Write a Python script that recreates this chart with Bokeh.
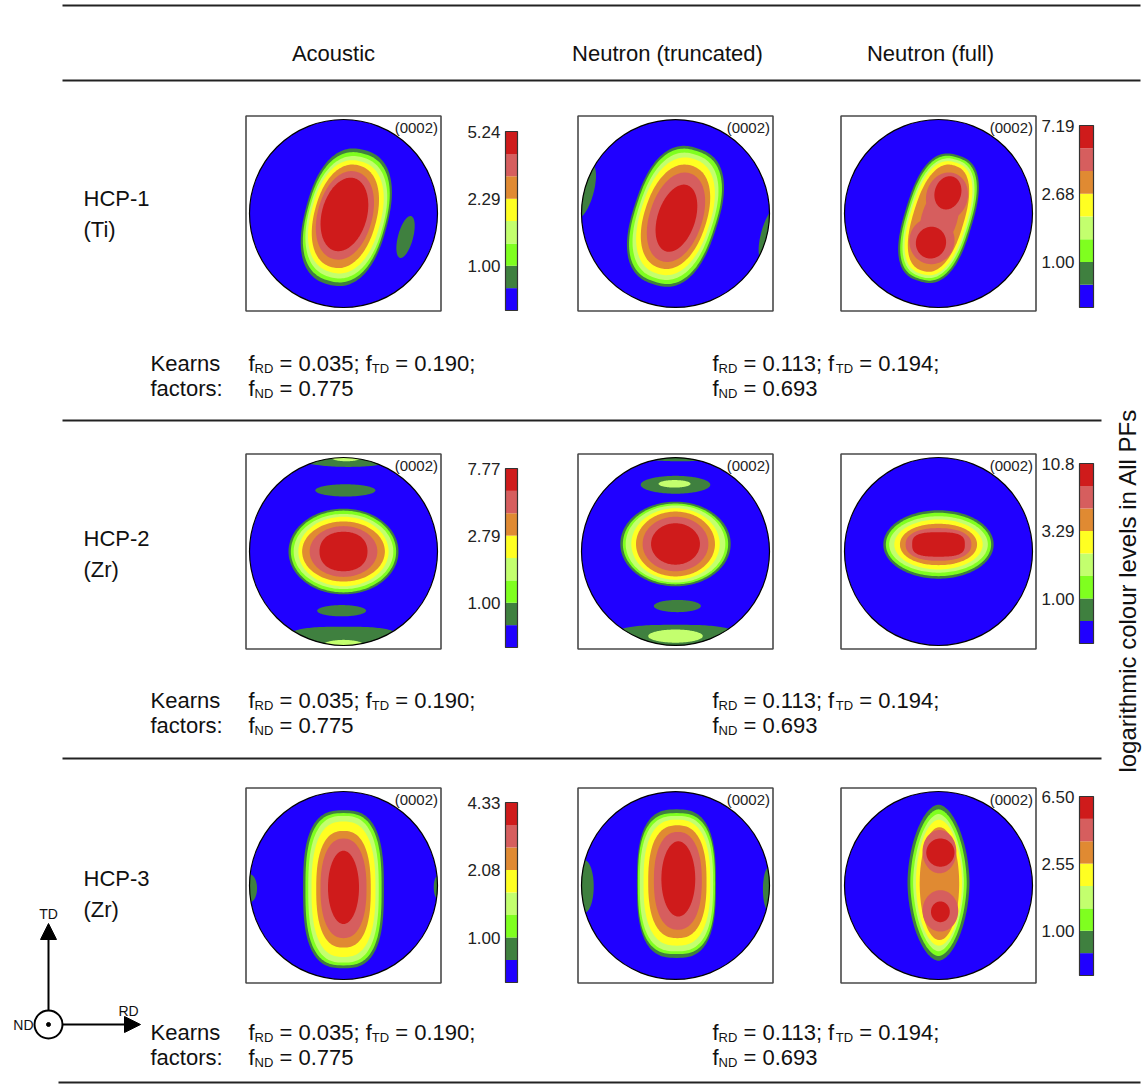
import numpy as np
from bokeh.plotting import figure
from bokeh.models import Range1d, ColumnDataSource, Label, Arrow, NormalHead
from bokeh.core.properties import value
from bokeh.embed import file_html
from bokeh.resources import INLINE

FONT = "Liberation Sans"

# ---------------- data ----------------
level_colors = ["#2000FF", "#3F803F", "#7FFF1F", "#C3FF6E",
                "#FFFF22", "#E08A32", "#D65E5E", "#CF1B1B"]

col_titles = ["Acoustic", "Neutron (truncated)", "Neutron (full)"]
row_names = ["HCP-1", "HCP-2", "HCP-3"]
row_materials = ["(Ti)", "(Zr)", "(Zr)"]
pole_label = "(0002)"

kearns_acoustic = ["0.035", "0.190", "0.775"]   # f_RD, f_TD, f_ND
kearns_neutron = ["0.113", "0.194", "0.693"]

cbar_labels_acoustic = [["5.24", "2.29", "1.00"],
                        ["7.77", "2.79", "1.00"],
                        ["4.33", "2.08", "1.00"]]
cbar_labels_full = [["7.19", "2.68", "1.00"],
                    ["10.8", "3.29", "1.00"],
                    ["6.50", "2.55", "1.00"]]

# contour level regions in pole-figure units (unit circle):
# (level, cx, cy, rx, ry, rotation_deg, squareness)
pf_hcp1_acoustic = [
    (1, 0.03, -0.04, 0.44, 0.74, -15, 2.4),
    (2, 0.03, -0.04, 0.42, 0.70, -15, 2.4),
    (3, 0.03, -0.04, 0.40, 0.66, -15, 2.3),
    (4, 0.025, -0.035, 0.37, 0.61, -15, 2.3),
    (5, 0.02, -0.03, 0.33, 0.56, -15, 2.2),
    (6, 0.015, -0.02, 0.29, 0.48, -15, 2.1),
    (7, 0.01, -0.01, 0.24, 0.40, -15, 2.0),
    (1, 0.66, -0.25, 0.08, 0.23, -15, 2.0),
]
pf_hcp1_truncated = [
    (1, 0.0, -0.03, 0.45, 0.76, -18, 2.5),
    (2, 0.0, -0.03, 0.43, 0.73, -18, 2.5),
    (3, 0.0, -0.03, 0.40, 0.69, -18, 2.4),
    (4, 0.0, -0.03, 0.37, 0.64, -18, 2.3),
    (5, 0.0, -0.035, 0.33, 0.57, -18, 2.2),
    (6, 0.005, -0.04, 0.28, 0.49, -18, 2.1),
    (7, 0.01, -0.05, 0.20, 0.37, -18, 2.0),
    (1, -0.97, 0.24, 0.10, 0.30, -15, 2.0),
    (1, 0.99, -0.22, 0.08, 0.28, -15, 2.0),
]
pf_hcp1_full = [
    (1, 0.0, -0.05, 0.36, 0.70, -17, 2.6),
    (2, 0.0, -0.05, 0.34, 0.675, -17, 2.6),
    (3, 0.0, -0.05, 0.32, 0.65, -17, 2.5),
    (4, 0.0, -0.05, 0.30, 0.62, -17, 2.5),
    (5, 0.0, -0.05, 0.27, 0.585, -17, 2.4),
    (6, 0.09, 0.18, 0.22, 0.26, -17, 2.0),
    (6, -0.07, -0.29, 0.24, 0.25, -17, 2.0),
    (6, 0.01, -0.05, 0.19, 0.36, -17, 2.0),
    (7, 0.10, 0.22, 0.14, 0.18, -17, 2.0),
    (7, -0.08, -0.31, 0.16, 0.17, -17, 2.0),
]
pf_hcp2_acoustic = [
    (1, 0.0, 0.0, 0.585, 0.456, 0, 2.0),
    (2, 0.0, 0.0, 0.56, 0.435, 0, 2.0),
    (3, 0.0, 0.0, 0.53, 0.40, 0, 2.0),
    (4, 0.0, 0.0, 0.48, 0.37, 0, 2.0),
    (5, 0.0, 0.0, 0.44, 0.32, 0, 2.0),
    (6, 0.0, 0.0, 0.36, 0.27, 0, 2.0),
    (7, 0.0, 0.0, 0.255, 0.21, 0, 2.2),
    (1, 0.02, 0.65, 0.32, 0.065, 0, 2.0),
    (1, -0.02, -0.63, 0.26, 0.06, 0, 2.0),
    (1, 0.05, 1.0, 0.55, 0.10, 0, 2.0),
    (3, 0.03, 1.0, 0.16, 0.04, 0, 2.0),
    (1, 0.0, -0.97, 0.62, 0.17, 0, 3.0),
    (3, 0.0, -1.0, 0.22, 0.06, 0, 2.0),
]
pf_hcp2_truncated = [
    (1, 0.0, 0.08, 0.587, 0.45, 0, 2.0),
    (2, 0.0, 0.08, 0.56, 0.43, 0, 2.0),
    (3, 0.0, 0.08, 0.53, 0.41, 0, 2.0),
    (4, 0.0, 0.08, 0.47, 0.38, 0, 2.0),
    (5, 0.0, 0.08, 0.42, 0.345, 0, 2.0),
    (6, 0.0, 0.08, 0.35, 0.29, 0, 2.0),
    (7, 0.0, 0.08, 0.26, 0.22, 0, 2.0),
    (1, 0.0, 0.71, 0.37, 0.095, 0, 2.0),
    (3, -0.01, 0.72, 0.17, 0.04, 0, 2.0),
    (1, 0.02, -0.58, 0.25, 0.065, 0, 2.0),
    (1, 0.0, -0.95, 0.68, 0.17, 0, 3.0),
    (3, 0.0, -0.90, 0.29, 0.07, 0, 2.0),
    (1, 0.05, 1.02, 0.50, 0.06, 0, 2.0),
]
pf_hcp2_full = [
    (1, 0.0, 0.075, 0.587, 0.364, 0, 2.0),
    (2, 0.0, 0.075, 0.56, 0.337, 0, 2.0),
    (3, 0.0, 0.075, 0.525, 0.30, 0, 2.0),
    (4, 0.0, 0.075, 0.47, 0.266, 0, 2.0),
    (5, 0.0, 0.075, 0.41, 0.22, 0, 2.1),
    (6, 0.0, 0.075, 0.35, 0.174, 0, 2.3),
    (7, 0.0, 0.075, 0.28, 0.13, 0, 3.0),
]
pf_hcp3_acoustic = [
    (1, 0.0, -0.04, 0.43, 0.84, 0, 2.8),
    (2, 0.0, -0.04, 0.405, 0.81, 0, 2.8),
    (3, 0.0, -0.04, 0.375, 0.78, 0, 2.7),
    (4, 0.0, -0.04, 0.34, 0.72, 0, 2.6),
    (5, 0.0, -0.04, 0.29, 0.62, 0, 2.5),
    (6, 0.0, -0.03, 0.245, 0.53, 0, 2.3),
    (7, 0.0, -0.02, 0.165, 0.39, 0, 2.0),
    (1, -1.0, -0.03, 0.08, 0.15, 0, 2.0),
    (1, 1.0, -0.02, 0.04, 0.12, 0, 2.0),
]
pf_hcp3_truncated = [
    (1, 0.01, 0.02, 0.42, 0.79, 0, 2.8),
    (2, 0.01, 0.02, 0.41, 0.75, 0, 2.8),
    (3, 0.01, 0.02, 0.39, 0.72, 0, 2.7),
    (4, 0.015, 0.03, 0.355, 0.67, 0, 2.6),
    (5, 0.02, 0.04, 0.31, 0.60, 0, 2.5),
    (6, 0.025, 0.05, 0.255, 0.52, 0, 2.3),
    (7, 0.03, 0.07, 0.18, 0.40, 0, 2.0),
    (1, -0.97, -0.01, 0.10, 0.28, 0, 2.0),
    (1, 0.99, -0.04, 0.06, 0.23, 0, 2.0),
]
pf_hcp3_full = [
    (1, 0.0, 0.03, 0.33, 0.83, 0, 1.8),
    (2, 0.0, 0.03, 0.30, 0.78, 0, 1.8),
    (3, 0.0, 0.03, 0.27, 0.73, 0, 1.8),
    (4, 0.005, 0.03, 0.245, 0.67, 0, 1.9),
    (5, 0.01, 0.02, 0.21, 0.60, 0, 2.0),
    (6, 0.01, 0.36, 0.18, 0.23, 0, 2.0),
    (6, 0.02, -0.27, 0.19, 0.22, 0, 2.0),
    (7, 0.02, 0.35, 0.15, 0.15, 0, 2.0),
    (7, 0.02, -0.28, 0.10, 0.11, 0, 2.0),
]
pole_figures = [[pf_hcp1_acoustic, pf_hcp1_truncated, pf_hcp1_full],
                [pf_hcp2_acoustic, pf_hcp2_truncated, pf_hcp2_full],
                [pf_hcp3_acoustic, pf_hcp3_truncated, pf_hcp3_full]]

# ---------------- layout (page pixels) ----------------
W, H = 1146, 1084
panel_x = [343, 675, 938]
panel_y = [213, 551, 885]
PF_R = 94
BOX_HALF = 97.5
cbar_left = [505, 1079]
cbar_width = [12, 14]
cbar_top = [[131, 125], [468, 463], [802, 796]]
cbar_bottom = [[310, 307], [647, 643], [982, 975]]
header_x = [333, 667, 930]
kearns_y = [363, 700, 1032]
row_label_y = [198, 538, 878]

p = figure(width=W, height=H, x_range=Range1d(0, W), y_range=Range1d(H, 0),
           output_backend="svg", toolbar_location=None, min_border=0,
           x_axis_type=None, y_axis_type=None, outline_line_color=None,
           background_fill_color="white", border_fill_color="white")
p.grid.visible = False


def superellipse(cx, cy, rx, ry, rot, n, npts=160):
    t = np.linspace(0, 2 * np.pi, npts, endpoint=False)
    c, s = np.cos(t), np.sin(t)
    x = rx * np.sign(c) * np.abs(c) ** (2.0 / n)
    y = ry * np.sign(s) * np.abs(s) ** (2.0 / n)
    a = np.radians(rot)
    return x * np.cos(a) - y * np.sin(a) + cx, x * np.sin(a) + y * np.cos(a) + cy


tt = np.linspace(0, 2 * np.pi, 200, endpoint=False)
disk_xs, disk_ys = [], []
patch_rec = []
mask_xs, mask_ys = [], []
for r in range(3):
    for c in range(3):
        X, Y = panel_x[c], panel_y[r]
        cx_list = list(X + PF_R * np.cos(tt))
        cy_list = list(Y - PF_R * np.sin(tt))
        disk_xs.append(cx_list)
        disk_ys.append(cy_list)
        for (lev, cx, cy, rx, ry, rot, n) in pole_figures[r][c]:
            u, v = superellipse(cx, cy, rx, ry, rot, n)
            patch_rec.append((lev, list(X + PF_R * u), list(Y - PF_R * v)))
        e = BOX_HALF + 14
        outer_x = [X - e, X + e, X + e, X - e]
        outer_y = [Y - e, Y - e, Y + e, Y + e]
        mask_xs.append([[outer_x, cx_list[::-1]]])
        mask_ys.append([[outer_y, cy_list[::-1]]])

patch_rec.sort(key=lambda q: q[0])
p.patches(disk_xs, disk_ys, fill_color=level_colors[0], line_color=None)
p.patches([q[1] for q in patch_rec], [q[2] for q in patch_rec],
          fill_color=[level_colors[q[0]] for q in patch_rec], line_color=None)
p.multi_polygons(xs=mask_xs, ys=mask_ys, fill_color="white", line_color=None)

# circle outlines and boxes
circ_x = [panel_x[c] for r in range(3) for c in range(3)]
circ_y = [panel_y[r] for r in range(3) for c in range(3)]
p.circle(x=circ_x, y=circ_y, radius=PF_R, fill_color=None, line_color="black", line_width=1.2)
p.quad(left=[x - BOX_HALF for x in circ_x], right=[x + BOX_HALF for x in circ_x],
       top=[y - BOX_HALF for y in circ_y], bottom=[y + BOX_HALF for y in circ_y],
       fill_color=None, line_color="#4a4a4a", line_width=1.6)
p.text(x=[x + BOX_HALF - 3 for x in circ_x], y=[y - BOX_HALF + 3 for y in circ_y],
       text=[pole_label] * 9, text_align="right", text_baseline="top",
       text_font=value(FONT), text_font_size="15px", text_color="#222222")

# colour bars
q_l, q_r, q_t, q_b, q_c = [], [], [], [], []
lab_x, lab_y, lab_t = [], [], []
for r in range(3):
    for k, labels in enumerate([cbar_labels_acoustic[r], cbar_labels_full[r]]):
        top, bot = cbar_top[r][k], cbar_bottom[r][k]
        step = (bot - top) / 8.0
        for i in range(8):
            q_l.append(cbar_left[k]); q_r.append(cbar_left[k] + cbar_width[k])
            q_b.append(bot - i * step); q_t.append(bot - (i + 1) * step)
            q_c.append(level_colors[i])
        for lab, nb in zip(labels, [8, 5, 2]):
            lab_x.append(cbar_left[k] - 5)
            lab_y.append(bot - nb * step)
            lab_t.append(lab)
p.quad(left=q_l, right=q_r, top=q_t, bottom=q_b, fill_color=q_c, line_color=None)
cb_l = [cbar_left[k] for r in range(3) for k in range(2)]
cb_r = [cbar_left[k] + cbar_width[k] for r in range(3) for k in range(2)]
cb_t = [cbar_top[r][k] for r in range(3) for k in range(2)]
cb_b = [cbar_bottom[r][k] for r in range(3) for k in range(2)]
p.quad(left=cb_l, right=cb_r, top=cb_t, bottom=cb_b, fill_color=None,
       line_color="#333333", line_width=1.2)
p.text(x=lab_x, y=lab_y, text=lab_t, text_align="right", text_baseline="middle",
       text_font=value(FONT), text_font_size="17px", text_color="#222222")

# rules
p.segment(x0=[62, 62, 62, 62, 58], y0=[5, 80, 420, 758, 1082],
          x1=[1140, 1140, 1101, 1101, 1140], y1=[5, 80, 420, 758, 1082],
          line_color="#222222", line_width=2)

# headers & row labels
p.text(x=header_x, y=[53] * 3, text=col_titles, text_align="center",
       text_baseline="alphabetic", text_font=value(FONT), text_font_size="22px",
       text_color="#111111")
p.text(x=[83] * 3, y=row_label_y, text=row_names, text_baseline="alphabetic",
       text_font=value(FONT), text_font_size="22px", text_color="#111111")
p.text(x=[83] * 3, y=[yy + 31 for yy in row_label_y], text=row_materials,
       text_baseline="alphabetic", text_font=value(FONT), text_font_size="22px",
       text_color="#111111")

# Kearns factors with subscripts
adv = {'f': 0.278, ' ': 0.278, '=': 0.584, '.': 0.278, ';': 0.278,
       'R': 0.722, 'D': 0.722, 'T': 0.611, 'N': 0.722}
for d in "0123456789":
    adv[d] = 0.556


def width(s, size):
    return sum(adv.get(ch, 0.55) for ch in s) * size


kx, ky, kt, ks = [], [], [], []


def put_segments(x0, yb, segs):
    x = x0
    for s, size, dy in segs:
        lead = len(s) - len(s.lstrip(" "))
        trail = len(s) - len(s.rstrip(" "))
        x += lead * adv[' '] * size
        core = s.strip(" ")
        kx.append(x); ky.append(yb + dy); kt.append(core); ks.append(size)
        x += width(core, size) + trail * adv[' '] * size


for r in range(3):
    yb = kearns_y[r]
    kx.append(150); ky.append(yb); kt.append("Kearns"); ks.append(22)
    kx.append(150); ky.append(yb + 25); kt.append("factors:"); ks.append(22)
    for x0, vals in [(248, kearns_acoustic), (712, kearns_neutron)]:
        put_segments(x0, yb, [("f", 22, 0), ("RD", 13, 5), (" = " + vals[0] + "; f", 22, 0),
                              ("TD", 13, 5), (" = " + vals[1] + ";", 22, 0)])
        put_segments(x0, yb + 25, [("f", 22, 0), ("ND", 13, 5), (" = " + vals[2], 22, 0)])

ksrc = ColumnDataSource(dict(x=kx, y=ky, text=kt, size=[f"{s}px" for s in ks]))
p.text(x="x", y="y", text="text", source=ksrc, text_font_size="size",
       text_baseline="alphabetic", text_font=value(FONT), text_color="#111111")

# rotated side label
p.add_layout(Label(x=1127, y=590, text="logarithmic colour levels in All PFs", angle=np.pi / 2,
                   text_align="center", text_baseline="middle", text_font=FONT,
                   text_font_size="24px", text_color="#111111"))

# orientation sketch
p.add_layout(Arrow(end=NormalHead(size=16, fill_color="black", line_color="black"),
                   x_start=48, y_start=1010, x_end=48, y_end=923, line_width=2, line_color="black"))
p.add_layout(Arrow(end=NormalHead(size=16, fill_color="black", line_color="black"),
                   x_start=62, y_start=1024, x_end=140, y_end=1024, line_width=2, line_color="black"))
p.circle(x=[48], y=[1024], radius=14, fill_color="white", line_color="black", line_width=2)
p.circle(x=[48], y=[1024], radius=2, fill_color="black", line_color="black")
p.text(x=[48, 33, 128], y=[913, 1024, 1010], text=["TD", "ND", "RD"],
       text_align=["center", "right", "center"], text_baseline="middle",
       text_font=value(FONT), text_font_size="14px", text_color="#111111")

open("out.html", "w").write(file_html(p, INLINE))
